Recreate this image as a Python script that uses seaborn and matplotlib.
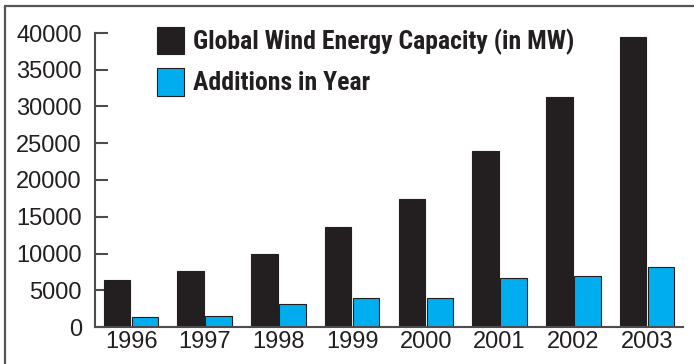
import matplotlib
matplotlib.use("Agg")
import matplotlib.pyplot as plt
import seaborn as sns
import pandas as pd
from matplotlib.patches import Rectangle
from matplotlib.lines import Line2D

years = ["1996", "1997", "1998", "1999", "2000", "2001", "2002", "2003"]
capacity = [6400, 7600, 10000, 13600, 17400, 23900, 31300, 39400]
additions = [1300, 1550, 3100, 4000, 3900, 6600, 6900, 8200]
series_names = ["Global Wind Energy Capacity (in MW)", "Additions in Year"]
series_colors = ["#231f20", "#00aeef"]
yticks = [0, 5000, 10000, 15000, 20000, 25000, 30000, 35000, 40000]

df = pd.DataFrame({
    "year": years * 2,
    "value": capacity + additions,
    "series": [series_names[0]] * len(years) + [series_names[1]] * len(years),
})

sns.set_theme(style="white")
plt.rcParams["font.family"] = ["Liberation Sans", "DejaVu Sans"]

W, H = 694, 364
fig = plt.figure(figsize=(W / 100, H / 100), dpi=100)
ax = fig.add_axes([95 / W, 1 - 327 / H, (683 - 95) / W, (327 - 33) / H])

sns.barplot(data=df, x="year", y="value", hue="series", order=years,
            hue_order=series_names, palette=series_colors, saturation=1,
            width=0.76, gap=0.05, edgecolor="#231f20", linewidth=0.8,
            legend=False, ax=ax)

ax.set_xlim(-0.49, 7.49)
ax.set_ylim(0, 40000)
ax.set_yticks(yticks)
ax.set_yticklabels([str(v) for v in yticks])
ax.set_xlabel("")
ax.set_ylabel("")
for s in ["top", "right"]:
    ax.spines[s].set_visible(False)
for s in ["left", "bottom"]:
    ax.spines[s].set_color("#4d4d4d")
    ax.spines[s].set_linewidth(1.5)
ax.tick_params(axis="y", direction="in", length=9.4, width=1.5, color="#4d4d4d",
               pad=9.4, labelsize=17, labelcolor="#231f20", left=True)
ax.tick_params(axis="x", length=0, pad=3, labelsize=17, labelcolor="#231f20")

# legend: squares and labels (figure pixel coordinates)
legend_rows = [(27, 54), (68, 96)]
for (top, bot), name, col in zip(legend_rows, series_names, series_colors):
    fig.add_artist(Rectangle((157 / W, 1 - bot / H), 27 / W, (bot - top) / H,
                             transform=fig.transFigure, facecolor=col,
                             edgecolor="#231f20", linewidth=0.8))
    fig.text(193 / W, 1 - ((top + bot) / 2 + 1) / H, name, ha="left", va="center",
             family=["Roboto Condensed", "DejaVu Sans"], fontstretch="condensed",
             fontweight="bold", fontsize=18.5, color="#231f20")

# figure frame (left and top)
fig.add_artist(Line2D([5 / W, 5 / W], [0, 1 - 5.5 / H], transform=fig.transFigure,
                      color="#555555", linewidth=1.6))
fig.add_artist(Line2D([5 / W, 1], [1 - 5.5 / H, 1 - 5.5 / H], transform=fig.transFigure,
                      color="#555555", linewidth=1.6))

fig.savefig("out.png", dpi=100)
